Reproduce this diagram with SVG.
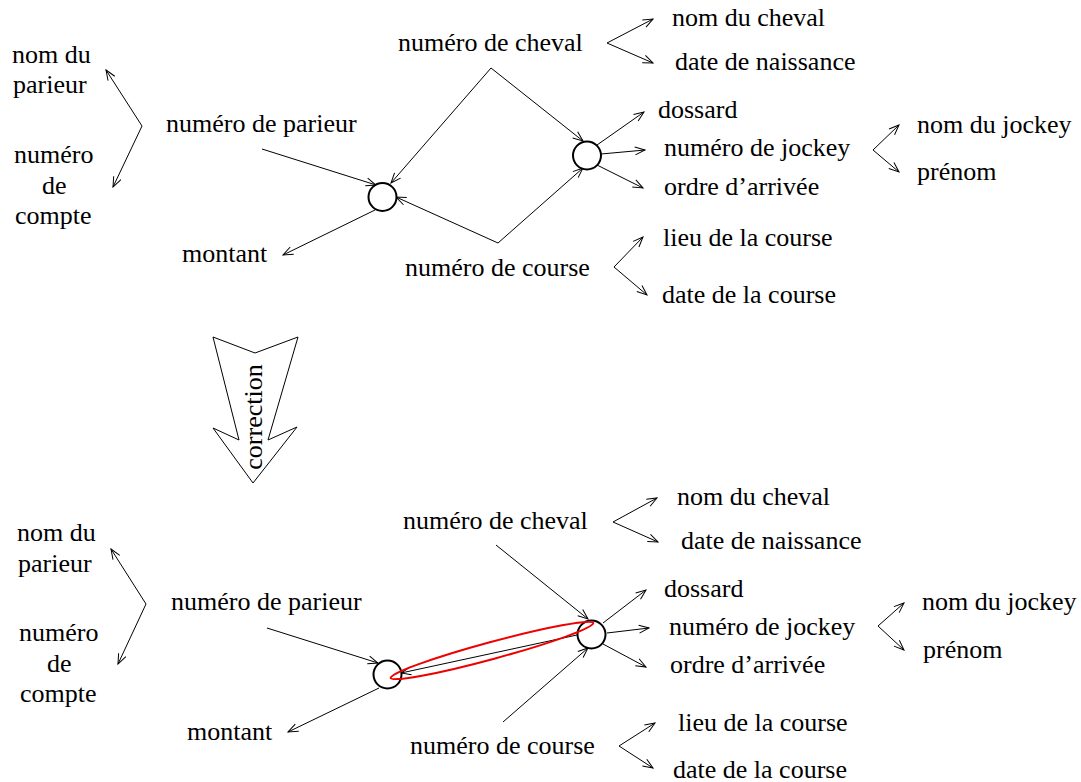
<svg xmlns="http://www.w3.org/2000/svg" width="1081" height="782" viewBox="0 0 1081 782">
<style>
.t text{font-size:26px;fill:#000}
.c{text-anchor:middle}
.ln{fill:none;stroke:#000;stroke-width:1;marker-end:url(#a)}
.br{fill:none;stroke:#000;stroke-width:1;marker-start:url(#a);marker-end:url(#a)}
.nd{fill:#fff;stroke:#000;stroke-width:2}
</style>
<defs>
<marker id="a" viewBox="-12 -6 13 12" refX="0" refY="0" markerWidth="13" markerHeight="12" markerUnits="userSpaceOnUse" orient="auto-start-reverse">
<path d="M-10,-4 L0,0 L-10,4" fill="none" stroke="#000" stroke-width="1"/>
</marker>
</defs>
<rect width="1081" height="782" fill="#fff"/>

<g id="connectors-top">
<path class="br" d="M106,70 L142,126 L113,187"/>
<path class="ln" d="M262,149 L376,185"/>
<path class="ln" d="M375,210 L283,255"/>
<path class="br" d="M391,183 L491,68 L583,141"/>
<path class="br" d="M396,197 L498,243 L583,168"/>
<path class="ln" d="M597,145 L644,112"/>
<path class="ln" d="M601,154 L645,150"/>
<path class="ln" d="M597,165 L643,188"/>
<path class="br" d="M653,19 L607,43 L653,63"/>
<path class="br" d="M899,125 L873,150 L899,172"/>
<path class="br" d="M643,237 L614,267 L647,295"/>
</g>

<g id="node-top-left"><circle class="nd" cx="382.5" cy="197" r="14"/></g>
<g id="node-top-right"><circle class="nd" cx="587" cy="155.5" r="14"/></g>

<g id="labels-top" class="t" font-family="'Liberation Serif', 'DejaVu Serif', serif">
<text x="12" y="63">nom du</text>
<text x="13" y="93">parieur</text>
<text x="14" y="163">numéro</text>
<text x="42" y="194">de</text>
<text x="15" y="224">compte</text>
<text x="166" y="132">numéro de parieur</text>
<text x="182" y="262">montant</text>
<text x="398" y="51">numéro de cheval</text>
<text x="405" y="276">numéro de course</text>
<text x="672" y="26">nom du cheval</text>
<text x="675" y="70">date de naissance</text>
<text x="658" y="118">dossard</text>
<text x="664" y="156">numéro de jockey</text>
<text x="664" y="195">ordre d’arrivée</text>
<text x="663" y="246">lieu de la course</text>
<text x="662" y="303">date de la course</text>
<text x="917" y="133">nom du jockey</text>
<text x="917" y="180">prénom</text>
</g>

<g id="correction-arrow" class="t" font-family="'Liberation Serif', 'DejaVu Serif', serif">
<polygon points="213,337 255,353 298,337 268,440 297,427 253,483 213,428 239,440" fill="#fff" stroke="#000" stroke-width="1"/>
<text transform="translate(262,417) rotate(-90)" class="c">correction</text>
</g>

<g id="connectors-bottom">
<path class="br" d="M111,549 L146,604 L118,664"/>
<path class="ln" d="M267,628 L378,663"/>
<path class="ln" d="M379,688 L288,732"/>
<path class="ln" d="M496,545 L588,619"/>
<path class="ln" d="M503,722 L588,648"/>
<path class="ln" d="M577,635 L401,673"/>
<path class="ln" d="M603,623 L646,590"/>
<path class="ln" d="M607,633 L649,628"/>
<path class="ln" d="M603,644 L646,667"/>
<path class="br" d="M657,498 L613,522 L658,542"/>
<path class="br" d="M904,603 L878,626 L904,650"/>
<path class="br" d="M655,723 L619,746 L653,768"/>
</g>

<g id="node-bottom-left"><circle class="nd" cx="387.5" cy="674.5" r="14"/></g>
<g id="node-bottom-right"><circle class="nd" cx="591.5" cy="634.5" r="14"/></g>
<g id="highlight"><ellipse cx="492" cy="650.5" rx="105" ry="8.5" transform="rotate(-15.2 492 650.5)" fill="none" stroke="#e00" stroke-width="2"/></g>

<g id="labels-bottom" class="t" font-family="'Liberation Serif', 'DejaVu Serif', serif">
<text x="17" y="541">nom du</text>
<text x="18" y="572">parieur</text>
<text x="19" y="641">numéro</text>
<text x="47" y="672">de</text>
<text x="20" y="702">compte</text>
<text x="171" y="610">numéro de parieur</text>
<text x="187" y="740">montant</text>
<text x="403" y="529">numéro de cheval</text>
<text x="410" y="754">numéro de course</text>
<text x="677" y="505">nom du cheval</text>
<text x="681" y="549">date de naissance</text>
<text x="664" y="597">dossard</text>
<text x="669" y="635">numéro de jockey</text>
<text x="670" y="673">ordre d’arrivée</text>
<text x="678" y="731">lieu de la course</text>
<text x="673" y="778">date de la course</text>
<text x="922" y="610">nom du jockey</text>
<text x="923" y="658">prénom</text>
</g>
</svg>
